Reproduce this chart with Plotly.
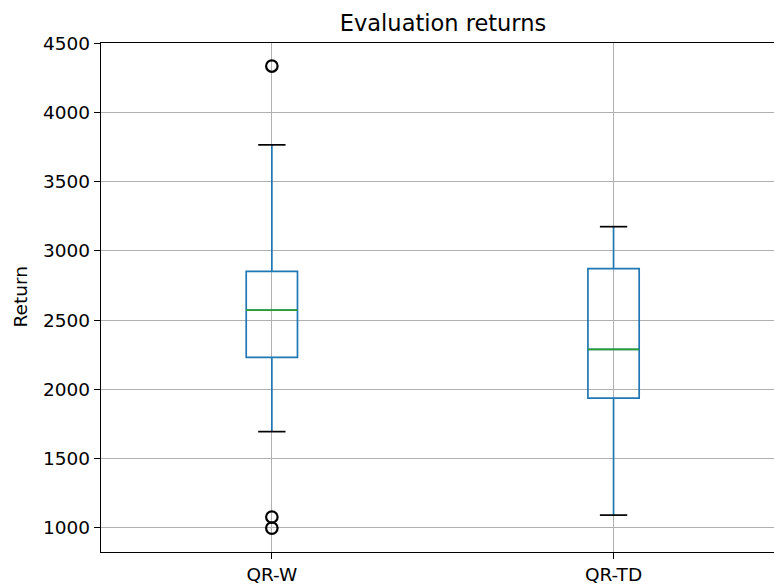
import plotly.graph_objects as go

# Data
categories = ["QR-W", "QR-TD"]
positions = [1, 2]
q1 = [2230, 1935]
median = [2572, 2288]
q3 = [2852, 2872]
lower_whisker = [1693, 1089]
upper_whisker = [3768, 3176]
outlier_x = [1, 1, 1]
outlier_y = [4338, 1075, 995]

BOX_W = 0.15
CAP_HALF = 0.04
MED_HALF = BOX_W / 2

fig = go.Figure()

fig.add_trace(go.Box(
    x=positions, q1=q1, median=median, q3=q3,
    lowerfence=lower_whisker, upperfence=upper_whisker,
    width=BOX_W, whiskerwidth=0, boxpoints=False,
    line=dict(color="#1f77b4", width=1.7),
    fillcolor="rgba(0,0,0,0)", showlegend=False, hoverinfo="skip",
))

# median lines
mx, my = [], []
for p, m in zip(positions, median):
    mx += [p - MED_HALF, p + MED_HALF, None]
    my += [m, m, None]
fig.add_trace(go.Scatter(x=mx, y=my, mode="lines",
                         line=dict(color="#2ca02c", width=1.7),
                         showlegend=False, hoverinfo="skip"))

# whisker caps
cx, cy = [], []
for p, lo, hi in zip(positions, lower_whisker, upper_whisker):
    cx += [p - CAP_HALF, p + CAP_HALF, None, p - CAP_HALF, p + CAP_HALF, None]
    cy += [lo, lo, None, hi, hi, None]
fig.add_trace(go.Scatter(x=cx, y=cy, mode="lines",
                         line=dict(color="black", width=1.7),
                         showlegend=False, hoverinfo="skip"))

# outliers
fig.add_trace(go.Scatter(x=outlier_x, y=outlier_y, mode="markers",
                         marker=dict(symbol="circle-open", size=11.5,
                                     color="black", line=dict(width=2.2)),
                         showlegend=False, hoverinfo="skip"))

font = "DejaVu Sans"
fig.update_layout(
    width=774, height=586,
    margin=dict(l=101, r=0, t=43, b=34),
    paper_bgcolor="white", plot_bgcolor="white",
    font=dict(family=font, size=18.5, color="black"),
    title=dict(text="Evaluation returns", font=dict(size=22.5, family=font),
               xref="container", x=443 / 774, xanchor="center",
               yref="container", y=1 - 23 / 586, yanchor="middle"),
    xaxis=dict(range=[0.5, 0.5 + 673 / 341.7], tickvals=positions,
               ticktext=categories, showgrid=True, gridcolor="#b0b0b0",
               gridwidth=1.3, showline=True, linecolor="black",
               linewidth=1.3, mirror=True, ticks="outside", ticklen=6,
               tickwidth=1.3, tickcolor="black", zeroline=False),
    yaxis=dict(range=[822, 4505], tickvals=[1000, 1500, 2000, 2500, 3000,
                                            3500, 4000, 4500],
               showgrid=True, gridcolor="#b0b0b0", gridwidth=1.3,
               showline=True, linecolor="black", linewidth=1.3,
               ticks="outside", ticklen=6, tickwidth=1.3,
               tickcolor="black", zeroline=False),
    annotations=[dict(text="Return", textangle=-90, xref="paper",
                      yref="paper", x=(20 - 101) / 673, y=0.5,
                      xanchor="center", yanchor="middle", showarrow=False,
                      font=dict(size=18.5, family=font))],
)

fig.write_html("out.html", config={"displayModeBar": False},
               post_script="document.body.style.margin='0';"
                           "document.body.style.overflow='hidden';")
